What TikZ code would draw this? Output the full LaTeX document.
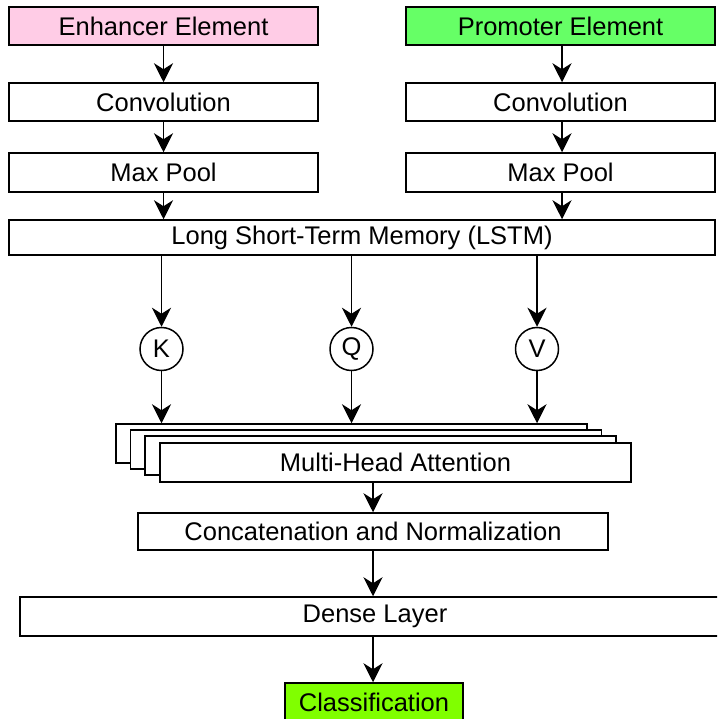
\documentclass[tikz,border=0pt]{standalone}
\usepackage{fontspec}
\setmainfont{Liberation Sans}
\usetikzlibrary{arrows.meta}
\definecolor{enhpink}{HTML}{FFCCE6}
\definecolor{progreen}{HTML}{66FF66}
\definecolor{clsgreen}{HTML}{80FF00}
\tikzset{
  blk/.style={draw=black, line width=1.5pt, fill=white, rectangle, inner sep=0pt,
    font=\fontsize{25.5}{30}\selectfont},
  circ/.style={draw=black, line width=1.5pt, fill=white, circle, minimum size=43pt, inner sep=0pt,
    font=\fontsize{25.5}{30}\selectfont},
  arr/.style={line width=1.6pt, -{Stealth[length=19pt,width=19pt,inset=6pt]}}
}
\begin{document}
\begin{tikzpicture}[x=1pt,y=-1pt]
\useasboundingbox (0,0) rectangle (717,719);
\begin{scope}
\clip (0,0) rectangle (717,719);
% top row
\node[blk, fill=enhpink, minimum width=309pt, minimum height=38pt] (enh) at (163.5,26) {Enhancer Element};
\node[blk, fill=progreen, minimum width=309pt, minimum height=38pt] (pro) at (560.5,26) {Promoter Element};
\node[blk, minimum width=309pt, minimum height=38pt] (conv1) at (163.5,102) {Convolution};
\node[blk, minimum width=309pt, minimum height=38pt] (conv2) at (560.5,102) {Convolution};
\node[blk, minimum width=309pt, minimum height=39pt] (mp1) at (163.5,172.5) {Max Pool};
\node[blk, minimum width=309pt, minimum height=39pt] (mp2) at (560.5,172.5) {Max Pool};
\node[blk, minimum width=706pt, minimum height=35pt] (lstm) at (362,237.5) {Long Short-Term Memory (LSTM)};
% K Q V
\node[circ] (K) at (161.5,349) {K};
\node[circ] (Q) at (351.5,349) {Q};
\node[circ] (V) at (537,349) {V};
% stack
\node[blk, minimum width=471pt, minimum height=39pt] (b1) at (351.5,443.5) {};
\node[blk, minimum width=471pt, minimum height=39pt] (b2) at (366,449.5) {};
\node[blk, minimum width=471pt, minimum height=39pt] (b3) at (380.5,455.5) {};
\node[blk, minimum width=471pt, minimum height=39pt] (mha) at (395.5,462.5) {Multi-Head Attention};
% lower
\node[blk, minimum width=470pt, minimum height=37pt] (cat) at (373,531.5) {Concatenation and Normalization};
\node[blk, minimum width=710pt, minimum height=39pt] (dense) at (375,616.5) {Dense Layer};
\node[blk, fill=clsgreen, minimum width=178pt, minimum height=38pt] (cls) at (374,702) {Classification};
% arrows
\draw[arr] (enh) -- (conv1);
\draw[arr] (pro.south -| 562,0) -- (conv2.north -| 562,0);
\draw[arr] (conv1) -- (mp1);
\draw[arr] (conv2.south -| 562,0) -- (mp2.north -| 562,0);
\draw[arr] (mp1) -- (mp1 |- lstm.north);
\draw[arr] (mp2.south -| 562,0) -- (lstm.north -| 562,0);
\draw[arr] (lstm.south -| K) -- (K);
\draw[arr] (lstm.south -| Q) -- (Q);
\draw[arr] (lstm.south -| V) -- (V);
\draw[arr] (K) -- (K |- b1.north);
\draw[arr] (Q) -- (Q |- b1.north);
\draw[arr] (V) -- (V |- b1.north);
\draw[arr] (mha.south -| cat) -- (cat);
\draw[arr] (cat) -- (cat |- dense.north);
\draw[arr] (cat |- dense.south) -- (cat |- cls.north);
\end{scope}
\end{tikzpicture}
\end{document}
